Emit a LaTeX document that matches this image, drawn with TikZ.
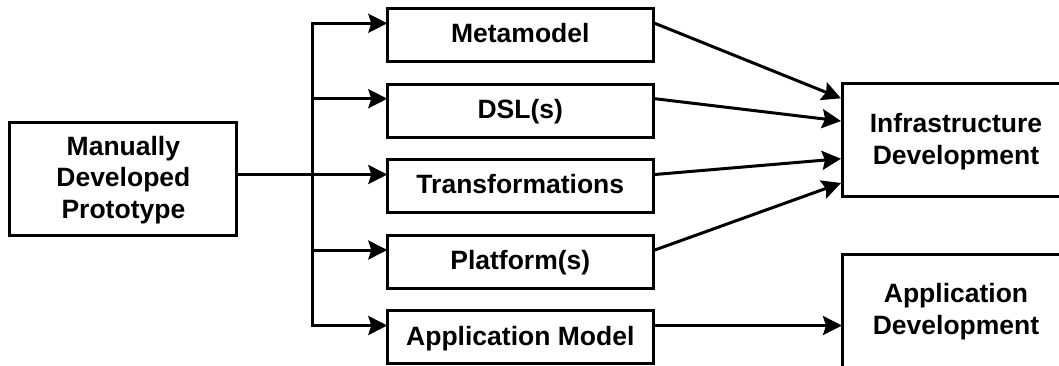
\documentclass[tikz,border=0pt]{standalone}
\usepackage{fontspec}
\setmainfont{Liberation Sans}
\usetikzlibrary{arrows.meta}
\newcommand{\firstln}{\rule{0pt}{22pt}}
\newcommand{\lastln}{\rule[-5.6pt]{0pt}{5.6pt}}
\tikzset{
 boxfont/.style={font=\fontsize{26.5}{31.5}\selectfont\bfseries},
 box/.style={draw=black,line width=3pt,align=center,boxfont,inner sep=0pt,anchor=center},
 smallbox/.style={box,minimum width=266,minimum height=53},
 bigbox/.style={box,minimum width=228,minimum height=113},
 conn/.style={line width=3pt,-{Stealth[length=19pt,width=19pt,inset=3pt]}},
 tonode/.style={conn,shorten >=-1.5pt},
 plain/.style={line width=3pt,line cap=rect}
}
\begin{document}
\begin{tikzpicture}[x=1pt,y=-1pt]
\useasboundingbox (0,0) rectangle (1059,365);
\clip (0,0) rectangle (1059,365);
\node[bigbox,minimum width=227] (proto) at (123.4,178.5) {\firstln Manually\\Developed\\Prototype\lastln};
\node[smallbox] (meta) at (520.3,34.5) {\firstln Metamodel\lastln};
\node[smallbox] (dsl) at (520.3,110.5) {\firstln DSL(s)\lastln};
\node[smallbox] (trans) at (520.3,185.5) {\firstln Transformations\lastln};
\node[smallbox] (plat) at (520.3,261.7) {\firstln Platform(s)\lastln};
\node[smallbox] (app) at (520.3,337.3) {\firstln Application Model\lastln};
\node[bigbox] (infra) at (956,140.4) {\firstln Infrastructure\\Development\lastln};
\node[bigbox] (appdev) at (956,310.5) {\firstln Application\\Development\lastln};
\coordinate (junction) at (312.7,174.5);
\coordinate (top) at (312.7,23.3);
\coordinate (c2) at (312.7,98.7);
\coordinate (c4) at (312.7,250);
\coordinate (bot) at (312.7,325.5);
\draw[plain] (proto.east|-junction) -- (junction);
\draw[plain] (top) -- (bot);
\draw[tonode] (top) -- (top-|meta.west);
\draw[tonode] (c2) -- (c2-|dsl.west);
\draw[tonode] (junction) -- (junction-|trans.west);
\draw[tonode] (c4) -- (c4-|plat.west);
\draw[tonode] (bot) -- (bot-|app.west);
\coordinate (i1) at (841,98.3);
\coordinate (i2) at (841,121);
\coordinate (i3) at (841,158.7);
\coordinate (i4) at (841,183);
\draw[conn] (top-|meta.east) -- (i1);
\draw[conn] (c2-|dsl.east) -- (i2);
\draw[conn] (junction-|trans.east) -- (i3);
\draw[conn] (c4-|plat.east) -- (i4);
\draw[tonode] (bot-|app.east) -- (bot-|appdev.west);
\end{tikzpicture}
\end{document}
